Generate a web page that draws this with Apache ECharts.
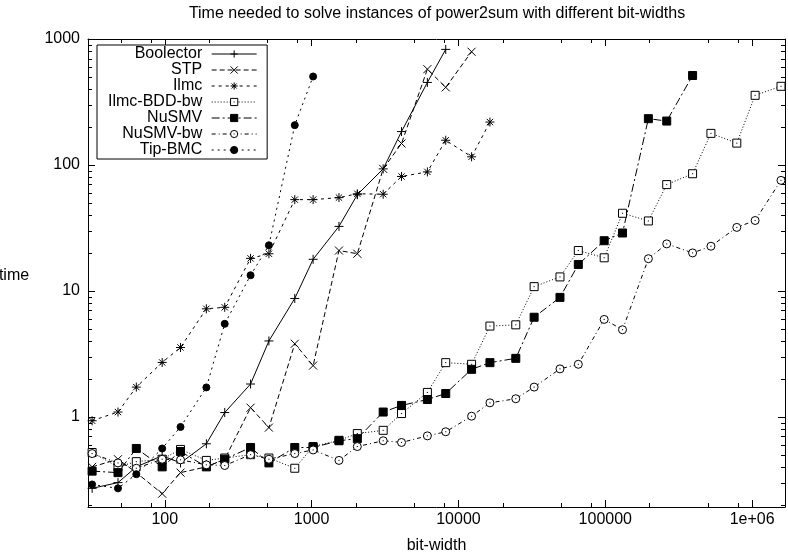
<!DOCTYPE html>
<html><head><meta charset="utf-8">
<script src="https://cdn.jsdelivr.net/npm/echarts@6/dist/echarts.min.js"></script>
<style>html,body{margin:0;padding:0;background:#fff}#c{width:788px;height:559px}</style>
</head><body><div id="c"></div>
<script>
const bitWidths = [32,48,64,96,128,192,256,384,512,768,1024,1536,2048,3072,4096,6144,8192,12288,16384,24576,32768,49152,65536,98304,131072,196608,262144,393216,524288,786432,1048576,1572864];
const boolector = [0.27,0.30,0.40,0.49,0.43,0.61,1.08,1.82,4.0,8.7,17.8,32.5,58,93,184,452,827];
const stp = [0.40,0.46,0.36,0.245,0.36,0.40,0.46,1.18,0.82,3.8,2.55,20.9,19.7,93,148,576,413,792];
const ilmc = [0.93,1.09,1.72,2.7,3.55,7.2,7.4,18.1,19.7,53,53,55,59,58.5,81,88,157,116,219];
const ilmcBddBw = [0.52,0.40,0.44,0.46,0.55,0.45,0.47,0.50,0.47,0.39,0.58,0.65,0.735,0.78,1.06,1.56,2.69,2.61,5.25,5.37,10.8,12.9,20.9,18.3,41.3,35.9,69.8,85.1,178,149,357,421];
const nusmv = [0.37,0.36,0.56,0.40,0.53,0.40,0.46,0.57,0.43,0.57,0.57,0.645,0.67,1.09,1.23,1.37,1.53,2.38,2.69,2.91,6.17,8.87,16.2,25,28.8,233,223,513];
const nusmvBw = [0.51,0.43,0.39,0.46,0.455,0.415,0.41,0.50,0.46,0.51,0.545,0.45,0.58,0.645,0.625,0.705,0.76,1.01,1.29,1.39,1.72,2.4,2.61,5.93,4.91,18,23.6,20.0,22.6,31.9,36.2,75.4];
const tipBmc = [0.29,0.27,0.35,0.56,0.83,1.71,5.47,13.3,23,207,504];
const seriesNames = ['Boolector','STP','Ilmc','Ilmc-BDD-bw','NuSMV','NuSMV-bw','Tip-BMC'];
const xDecadeLabels = {2:'100',3:'1000',4:'10000',5:'100000',6:'1e+06'};
const yDecadeLabels = {0:'1',1:'10',2:'100',3:'1000'};
const titleText = 'Time needed to solve instances of power2sum with different bit-widths';

const FONT = '"Liberation Sans", Arial, Helvetica, sans-serif';
const FS = 16;
const X_MIN = 30, X_MAX = 1.675e6, Y_MIN = 0.192, Y_MAX = 1000;

function pairs(vals){ return vals.map((v,i)=>[bitWidths[i], v]); }
function decadeOf(v){ const l=Math.log10(v); const e=Math.round(l); return Math.abs(l-e)<1e-6 ? e : null; }

const xMinor=[]; for (let e=1;e<=6;e++) for (const m of [2,5,8]) { const v=m*Math.pow(10,e); if(v>X_MIN && v<X_MAX) xMinor.push(v);}
const yMinor=[]; for (let e=-1;e<=2;e++) for (let m=2;m<=9;m++){ const v=m*Math.pow(10,e); if (v>Y_MIN && v<Y_MAX) yMinor.push(v);}

const sym = {
  plus: 'path://M0,5L10,5M5,0L5,10',
  cross: 'path://M0,0L10,10M10,0L0,10',
  star: 'path://M0,5L10,5M5,0L5,10M1.5,1.5L8.5,8.5M8.5,1.5L1.5,8.5',
  boxDot: 'path://M0,0L10,0L10,10L0,10Z M4.3,5L5.7,5',
  circDot: 'path://M10,5A5,5,0,1,1,0,5A5,5,0,1,1,10,5Z M4.3,5L5.7,5'
};

function mk(name, vals, symbol, size, dash, fill){
  return {
    type:'line', name, data: pairs(vals), symbol, symbolSize: size, showSymbol:true,
    xAxisIndex:0, yAxisIndex:0, animation:false, clip:false,
    lineStyle:{color:'#000', width:1, type: dash},
    itemStyle:{color: fill, borderColor:'#000', borderWidth:1},
    emphasis:{disabled:true}
  };
}

const tickLine = {color:'#000', width:1};
const chart = echarts.init(document.getElementById('c'), null, {renderer:'canvas'});
chart.setOption({
  backgroundColor:'#fff',
  animation:false,
  title:{text:titleText, left:437, top:6, padding:0, textAlign:'center',
    textStyle:{fontSize:FS, fontWeight:'normal', color:'#000', fontFamily:FONT}},
  grid:{left:88, top:39, width:699, height:473, containLabel:false},
  legend:{
    data: seriesNames, orient:'vertical', left:97, top:45, align:'right',
    itemWidth:45, itemHeight:9, itemGap:0, padding:[1,10,1,11],
    borderColor:'#000', borderWidth:1, backgroundColor:'#fff', borderRadius:0,
    lineStyle:{width:1}, itemStyle:{borderWidth:1},
    formatter: n => n + ' ',
    textStyle:{fontSize:FS, fontFamily:FONT, color:'#000', lineHeight:15.7},
    selectedMode:false, z:10
  },
  graphic:[{type:'text', x:14, y:276, style:{text:'time', align:'center', verticalAlign:'middle', fontSize:FS, fontFamily:FONT, fill:'#000'}}],
  xAxis:[
    {type:'log', min:X_MIN, max:X_MAX, position:'bottom',
     axisLine:{show:true, onZero:false, lineStyle:tickLine},
     axisTick:{show:true, inside:true, length:7, lineStyle:tickLine},
     splitLine:{show:false}, minorTick:{show:false},
     axisLabel:{color:'#000', fontSize:FS, fontFamily:FONT, margin:5,
       formatter:v=>{const e=decadeOf(v); return e===null?'':(xDecadeLabels[e]||'');}},
     name:'bit-width', nameLocation:'middle', nameGap:31,
     nameTextStyle:{color:'#000', fontSize:FS, fontFamily:FONT}},
    {type:'log', min:X_MIN, max:X_MAX, position:'top',
     axisLine:{show:true, onZero:false, lineStyle:tickLine},
     axisTick:{show:true, inside:true, length:7, lineStyle:tickLine},
     splitLine:{show:false}, axisLabel:{show:false}}
  ],
  yAxis:[
    {type:'log', min:Y_MIN, max:Y_MAX, position:'left',
     axisLine:{show:true, onZero:false, lineStyle:tickLine},
     axisTick:{show:true, inside:true, length:7, lineStyle:tickLine},
     splitLine:{show:false},
     axisLabel:{color:'#000', fontSize:FS, fontFamily:FONT, margin:8,
       formatter:v=>{const e=decadeOf(v); return e===null?'':(yDecadeLabels[e]||'');}}},
    {type:'log', min:Y_MIN, max:Y_MAX, position:'right',
     axisLine:{show:true, onZero:false, lineStyle:tickLine},
     axisTick:{show:true, inside:true, length:7, lineStyle:tickLine},
     splitLine:{show:false}, axisLabel:{show:false}}
  ],
  series:[
    {type:'custom', name:'minorTicks', silent:true, animation:false, clip:false, z:1,
     xAxisIndex:0, yAxisIndex:0,
     data: xMinor.map(v=>[v,1,0]).concat(yMinor.map(v=>[100,v,1])),
     renderItem:(params, api)=>{
       const cs = params.coordSys; const L=4;
       const p = api.coord([api.value(0), api.value(1)]);
       const st = {stroke:'#000', lineWidth:1};
       if (api.value(2)===0){
         const x=Math.round(p[0])+0.5, b=cs.y+cs.height, t=cs.y;
         return {type:'group', children:[
           {type:'line', shape:{x1:x,y1:b,x2:x,y2:b-L}, style:st},
           {type:'line', shape:{x1:x,y1:t,x2:x,y2:t+L}, style:st}]};
       }
       const y=Math.round(p[1])+0.5, l=cs.x, r=cs.x+cs.width;
       return {type:'group', children:[
         {type:'line', shape:{x1:l,y1:y,x2:l+L,y2:y}, style:st},
         {type:'line', shape:{x1:r,y1:y,x2:r-L,y2:y}, style:st}]};
     }},
    mk('Boolector', boolector, sym.plus, 9, 'solid', '#000'),
    mk('STP', stp, sym.cross, 8, [5,3], '#000'),
    mk('Ilmc', ilmc, sym.star, 9, [3,4], '#000'),
    mk('Ilmc-BDD-bw', ilmcBddBw, sym.boxDot, 8, [1,2], '#fff'),
    mk('NuSMV', nusmv, 'rect', 8, [8,3,2,3], '#000'),
    mk('NuSMV-bw', nusmvBw, sym.circDot, 8, [4,3,1,3], '#fff'),
    mk('Tip-BMC', tipBmc, 'circle', 7, [2,4], '#000')
  ]
});
</script></body></html>
